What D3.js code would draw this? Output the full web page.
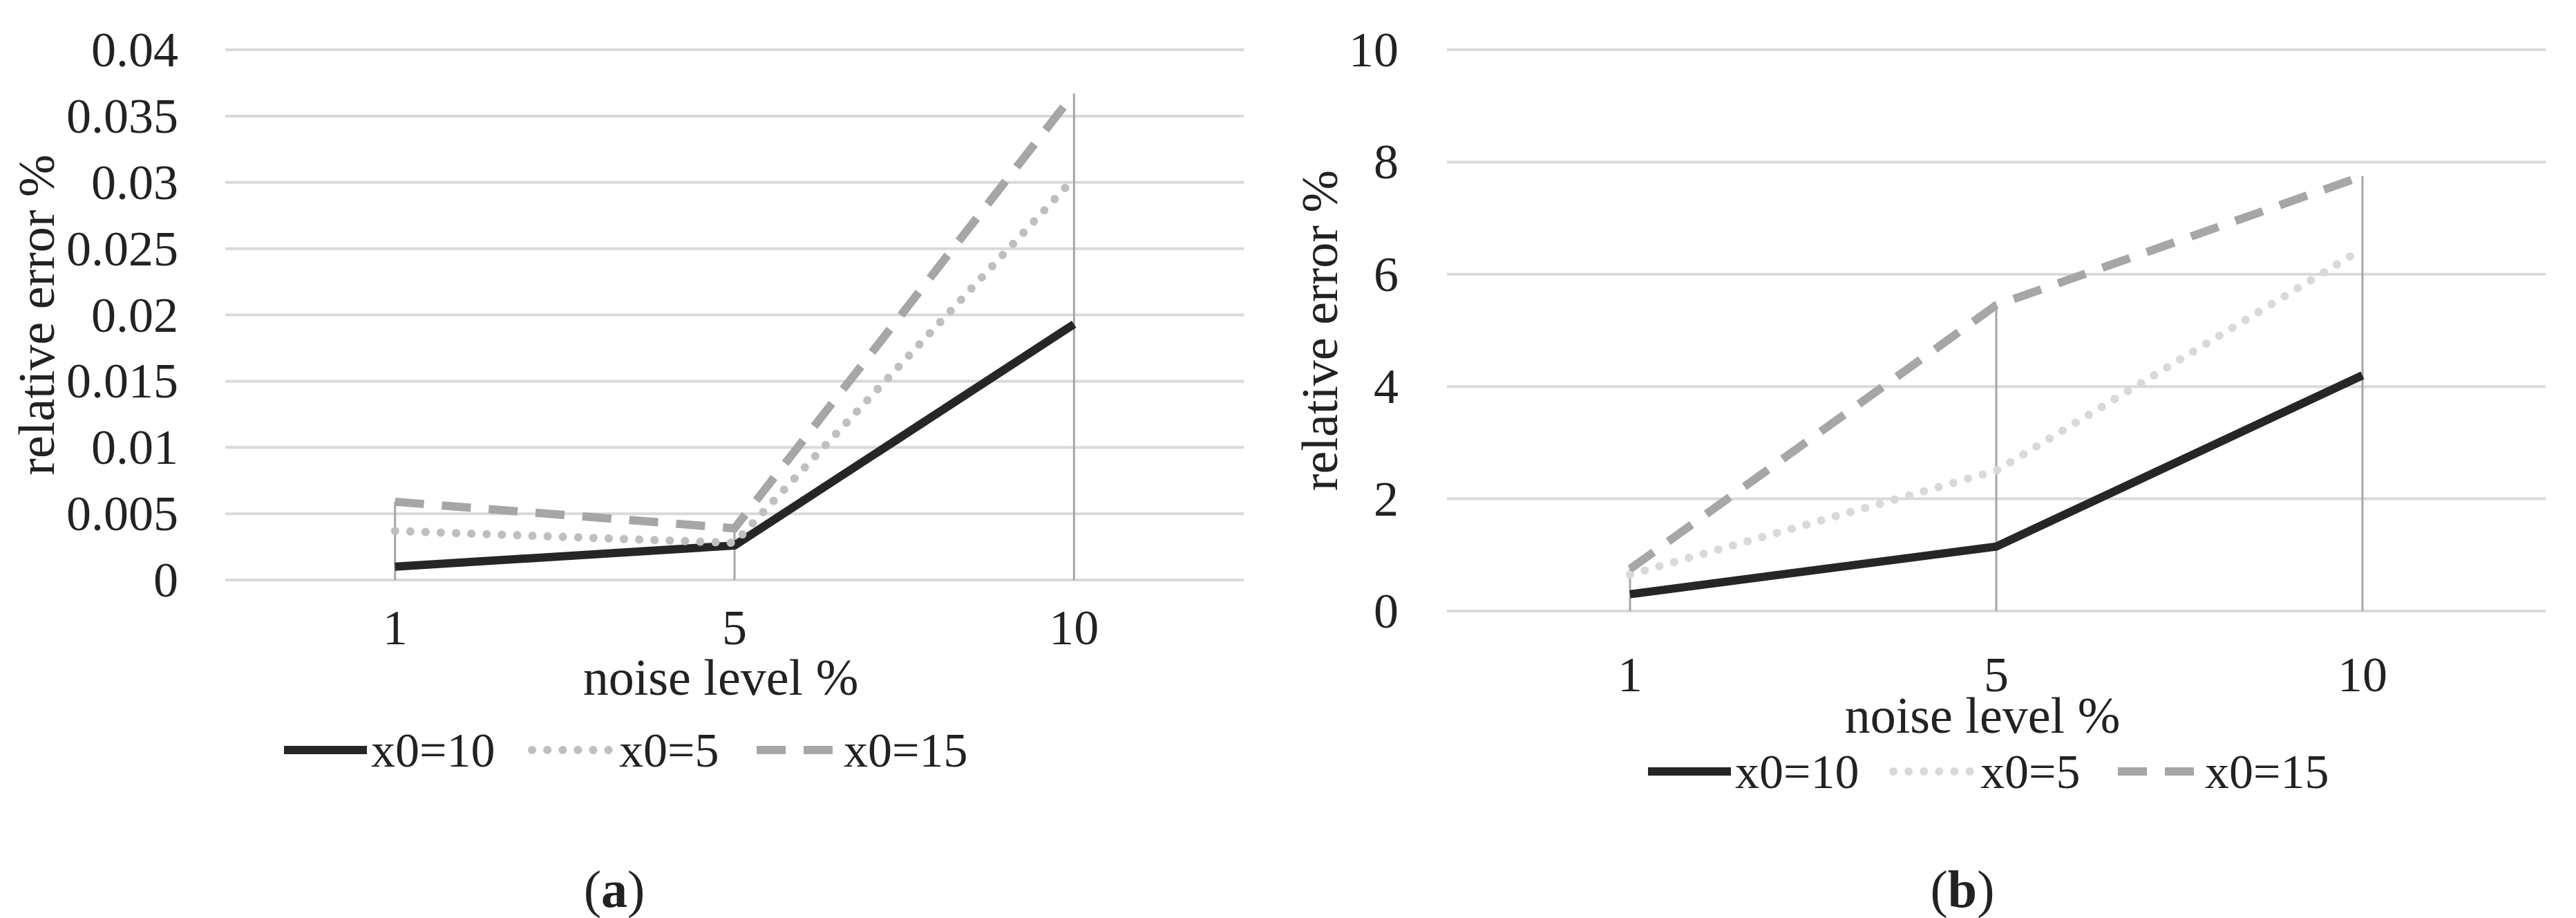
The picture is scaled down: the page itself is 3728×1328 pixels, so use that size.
<!DOCTYPE html>
<html>
<head>
<meta charset="utf-8">
<script src="https://cdn.jsdelivr.net/npm/d3@7"></script>
<style>
  body { margin: 0; background: #fff; }
  text { font-family: "Liberation Serif", "Times New Roman", Times, "DejaVu Serif", serif; fill: #222; }
</style>
</head>
<body>
<svg id="chart" width="3728" height="1328"></svg>
<script>
// noise levels on the x axis
const noiseLevels = ["1", "5", "10"];
const seriesNames = ["x0=10", "x0=5", "x0=15"];

// panel (a) values
const aX10 = [0.001, 0.0026, 0.0193];
const aX5 = [0.0037, 0.0028, 0.0303];
const aX15 = [0.0059, 0.0039, 0.0367];
const aTicks = [0, 0.005, 0.01, 0.015, 0.02, 0.025, 0.03, 0.035, 0.04];

// panel (b) values
const bX10 = [0.3, 1.15, 4.2];
const bX5 = [0.65, 2.5, 6.45];
const bX15 = [0.75, 5.45, 7.75];
const bTicks = [0, 2, 4, 6, 8, 10];

const svg = d3.select("#chart");

function panel(opt) {
    const g = svg.append("g");
    const x = d3.scaleBand().domain(noiseLevels).range([opt.left, opt.right]);
    const y = d3.scaleLinear().domain([0, opt.max]).range([opt.bottom, opt.top]);
    const cx = d => x(d) + x.bandwidth() / 2;

    // gridlines
    g.selectAll("line.grid").data(opt.ticks).enter().append("line")
        .attr("x1", opt.left).attr("x2", opt.right)
        .attr("y1", d => y(d)).attr("y2", d => y(d))
        .style("stroke", "#d9d9d9").style("stroke-width", 4);

    // y tick labels
    g.selectAll("text.yt").data(opt.ticks).enter().append("text")
        .attr("x", opt.labelX).attr("y", d => y(d) + 24)
        .attr("text-anchor", "end").style("font-size", "72px")
        .text(d => String(d));

    // drop lines from highest point down to the axis
    const tops = noiseLevels.map((n, i) => Math.max(...opt.series.map(s => s.values[i])));
    g.selectAll("line.drop").data(noiseLevels).enter().append("line")
        .attr("x1", d => cx(d)).attr("x2", d => cx(d))
        .attr("y1", (d, i) => y(tops[i])).attr("y2", y(0))
        .style("stroke", "#a6a6a6").style("stroke-width", 3);

    // x tick labels
    g.selectAll("text.xt").data(noiseLevels).enter().append("text")
        .attr("x", d => cx(d)).attr("y", opt.xLabelY)
        .attr("text-anchor", "middle").style("font-size", "72px")
        .text(d => d);

    const line = d3.line().x((d, i) => cx(noiseLevels[i])).y(d => y(d));
    opt.series.forEach(s => {
        g.append("path").datum(s.values)
            .attr("d", line).attr("fill", "none")
            .style("stroke", s.color).style("stroke-width", 12)
            .style("stroke-dasharray", s.dash).style("stroke-linecap", s.cap);
    });

    // axis titles
    g.append("text").attr("x", (opt.left + opt.right) / 2 - 20).attr("y", opt.titleY)
        .attr("text-anchor", "middle").style("font-size", "74px").text("noise level %");
    g.append("text")
        .attr("transform", `translate(${opt.yTitleX},${(opt.top + opt.bottom) / 2}) rotate(-90)`)
        .attr("text-anchor", "middle").style("font-size", "74px").text("relative error %");

    // legend
    opt.series.forEach((s, i) => {
        const lx = opt.legendX[i];
        g.append("line").attr("x1", lx).attr("x2", lx + 120)
            .attr("y1", opt.legendY).attr("y2", opt.legendY)
            .style("stroke", s.color).style("stroke-width", 12)
            .style("stroke-dasharray", s.dash).style("stroke-linecap", s.cap);
        g.append("text").attr("x", lx + 126).attr("y", opt.legendY + 24)
            .style("font-size", "70px").text(s.name);
    });

    // panel caption
    const cap = g.append("text").attr("x", opt.capX).attr("y", 1312)
        .attr("text-anchor", "middle").style("font-size", "76px");
    cap.append("tspan").text("(");
    cap.append("tspan").style("font-weight", "bold").text(opt.caption);
    cap.append("tspan").text(")");
}

panel({
    left: 326, right: 1800, top: 72, bottom: 839, max: 0.04, ticks: aTicks,
    labelX: 258, xLabelY: 932, titleY: 1005, yTitleX: 78,
    legendY: 1085, legendX: [411, 770, 1095], capX: 889, caption: "a",
    series: [
        { name: seriesNames[0], values: aX10, color: "#262626", dash: null, cap: "butt" },
        { name: seriesNames[1], values: aX5, color: "#bfbfbf", dash: "0.1 22", cap: "round" },
        { name: seriesNames[2], values: aX15, color: "#a6a6a6", dash: "42 26", cap: "butt" }
    ]
});

panel({
    left: 2094, right: 3684, top: 72, bottom: 884, max: 10, ticks: bTicks,
    labelX: 2024, xLabelY: 1000, titleY: 1060, yTitleX: 1935,
    legendY: 1116, legendX: [2385, 2740, 3065], capX: 2840, caption: "b",
    series: [
        { name: seriesNames[0], values: bX10, color: "#262626", dash: null, cap: "butt" },
        { name: seriesNames[1], values: bX5, color: "#d9d9d9", dash: "0.1 22", cap: "round" },
        { name: seriesNames[2], values: bX15, color: "#a6a6a6", dash: "42 26", cap: "butt" }
    ]
});
</script>
</body>
</html>
